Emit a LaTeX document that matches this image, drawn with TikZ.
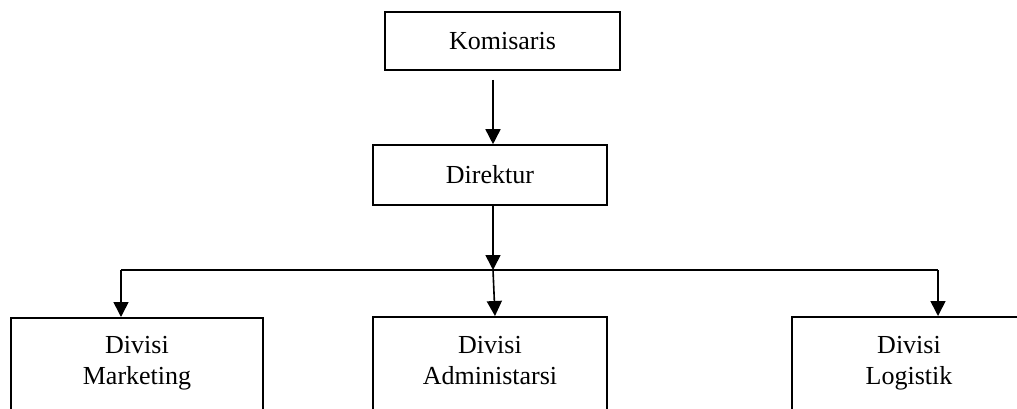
\documentclass[tikz,border=0pt]{standalone}
\usepackage{fontspec}
\setmainfont{Liberation Serif}
\usetikzlibrary{arrows.meta}
\begin{document}
\begin{tikzpicture}[x=0.5pt,y=-0.5pt,line width=0.8pt,
	font=\fontsize{13}{15.5}\selectfont,
	>={Triangle[length=7.5pt,width=7.5pt]},
	box/.style={draw,inner sep=0pt},
	divbox/.style={box,minimum height=60pt,anchor=north},
	divtext/.style={align=center,inner sep=0pt,anchor=north}]

	\useasboundingbox (0,0) rectangle (1017,408);
	\clip (0,0) rectangle (1017,408);

	\node[box, minimum width=117.5pt, minimum height=29pt] (kom) at (502.5,41) {Komisaris};
	\node[box, minimum width=117pt, minimum height=30pt] (dir) at (490,175) {Direktur};

	\node[divbox, minimum width=126pt] (mkt) at (137,317) {};
	\node[divtext] (mkttext) at (137,335) {Divisi\\Marketing};
	\node[divbox, minimum width=117pt] (adm) at (490,316) {};
	\node[divtext] (admtext) at (490,335) {Divisi\\Administarsi};
	\node[divbox, minimum width=117pt] (log) at (909,316) {};
	\node[divtext] (logtext) at (909,335) {Divisi\\Logistik};

	\coordinate (bus) at (493,270);
	\coordinate (busleft) at (121,270);
	\coordinate (busright) at (938,270);

	\draw[->] ([yshift=-4.5pt]kom.south -| bus) -- (dir.north -| bus);
	\draw[->] (dir.south -| bus) -- (bus);
	\draw (busleft) -- (busright);
	\draw[->] (busleft) -- (busleft |- mkt.north);
	\draw[->] (bus) -- ([xshift=2.5pt]adm.north);
	\draw[->] (busright) -- (busright |- log.north);

\end{tikzpicture}
\end{document}
